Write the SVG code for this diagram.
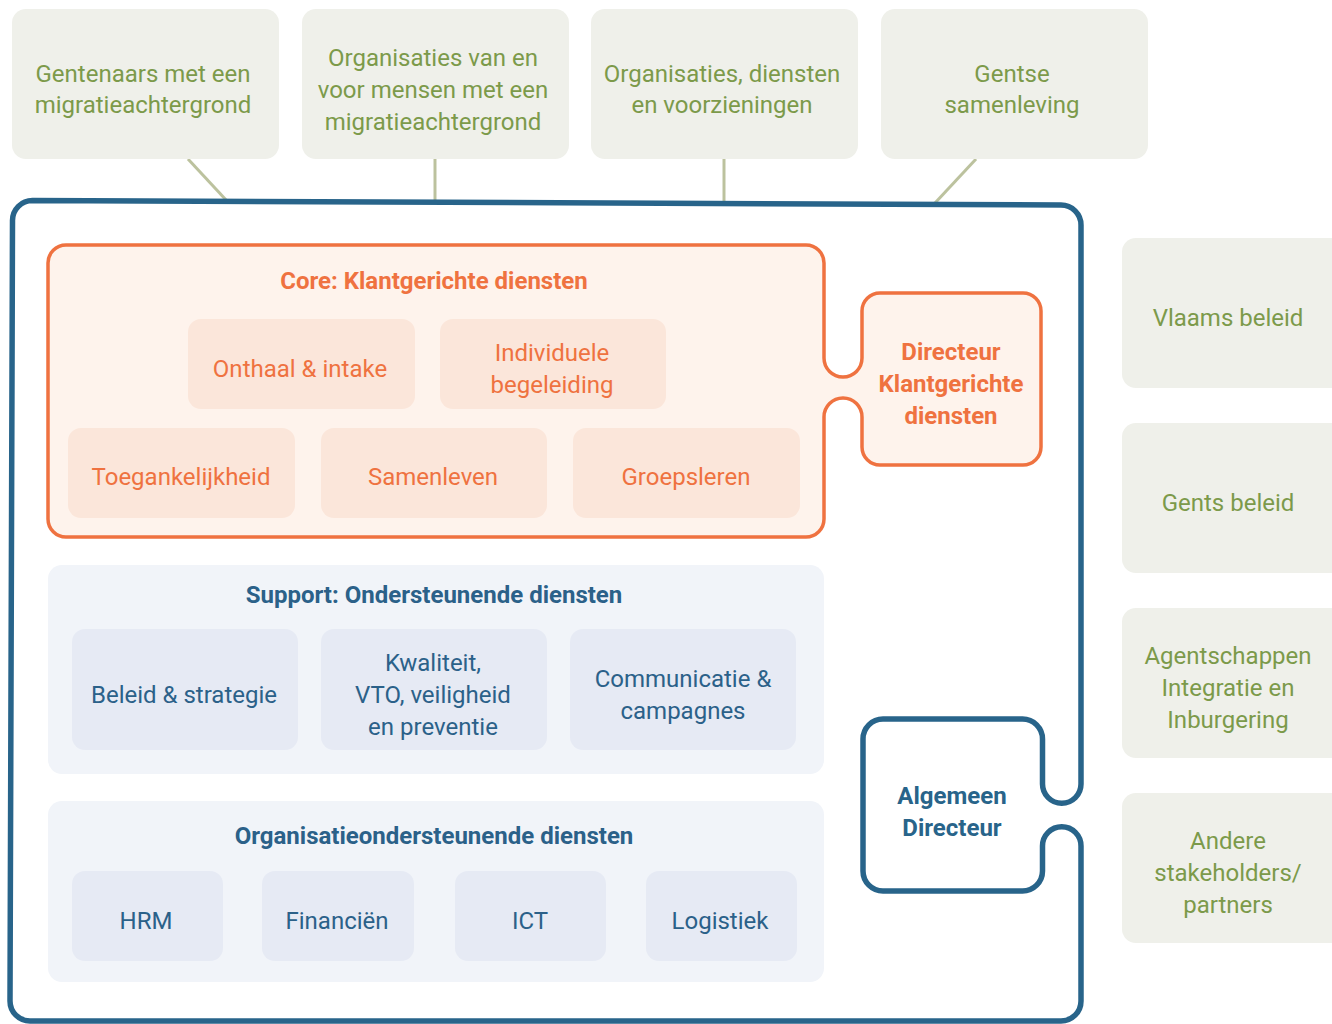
<svg xmlns="http://www.w3.org/2000/svg" width="1332" height="1024" viewBox="0 0 1332 1024">
<style>
text{font-family:Roboto,"Liberation Sans",sans-serif;text-anchor:middle}
.ext rect{fill:#EFF0EA}
.ext text{fill:#7C9A4A;font-size:24px}
.core rect{fill:#FBE6DA}
.core text{fill:#EF7240;font-size:24px}
.sup rect.panel{fill:#F1F4F9}
.sup rect.item{fill:#E6EAF4}
.sup text{fill:#2B6189;font-size:24px}
.ttl{font-weight:bold;font-size:24px}
.conn line{stroke:#BCC29E;stroke-width:3}
</style>
<rect width="1332" height="1024" fill="#FFFFFF"/>

<g id="connectors" class="conn">
<line x1="188" y1="159" x2="227" y2="201"/>
<line x1="435" y1="159" x2="435" y2="201"/>
<line x1="724" y1="159" x2="724" y2="202"/>
<line x1="976" y1="159" x2="935" y2="203"/>
</g>

<g id="ext-gentenaars" class="ext">
<rect x="12" y="9" width="267" height="150" rx="14"/>
<text x="143" y="82">Gentenaars met een</text>
<text x="143" y="113">migratieachtergrond</text>
</g>
<g id="ext-organisaties" class="ext">
<rect x="302" y="9" width="267" height="150" rx="14"/>
<text x="433" y="66">Organisaties van en</text>
<text x="433" y="98">voor mensen met een</text>
<text x="433" y="130">migratieachtergrond</text>
</g>
<g id="ext-diensten" class="ext">
<rect x="591" y="9" width="267" height="150" rx="14"/>
<text x="722" y="82">Organisaties, diensten</text>
<text x="722" y="113">en voorzieningen</text>
</g>
<g id="ext-samenleving" class="ext">
<rect x="881" y="9" width="267" height="150" rx="14"/>
<text x="1012" y="82">Gentse</text>
<text x="1012" y="113">samenleving</text>
</g>

<g id="ext-vlaams" class="ext">
<rect x="1122" y="238" width="226" height="150" rx="14"/>
<text x="1228" y="326">Vlaams beleid</text>
</g>
<g id="ext-gents" class="ext">
<rect x="1122" y="423" width="226" height="150" rx="14"/>
<text x="1228" y="511">Gents beleid</text>
</g>
<g id="ext-agentschappen" class="ext">
<rect x="1122" y="608" width="226" height="150" rx="14"/>
<text x="1228" y="664">Agentschappen</text>
<text x="1228" y="696">Integratie en</text>
<text x="1228" y="728">Inburgering</text>
</g>
<g id="ext-andere" class="ext">
<rect x="1122" y="793" width="226" height="150" rx="14"/>
<text x="1228" y="849">Andere</text>
<text x="1228" y="881">stakeholders/</text>
<text x="1228" y="913">partners</text>
</g>

<g id="organisatie-algemeen-directeur">
<path d="M32.5,200.5 L1061,205 A20,20 0 0 1 1081,225 V784 A19.25,19.25 0 0 1 1042.5,784 V739 A20,20 0 0 0 1022.5,719 H883 A20,20 0 0 0 863,739 V871 A20,20 0 0 0 883,891 H1022.5 A20,20 0 0 0 1042.5,871 V846 A19.25,19.25 0 0 1 1081,846 V1001 A20,20 0 0 1 1061,1021 H30 A20,20 0 0 1 10,1001 L12.5,220.5 A20,20 0 0 1 32.5,200.5 Z" fill="#FFFFFF" stroke="#28648A" stroke-width="5.5"/>
<text x="952" y="804" class="ttl" fill="#28648A">Algemeen</text>
<text x="952" y="836" class="ttl" fill="#28648A">Directeur</text>
</g>

<g id="core">
<path d="M66,245 H806 A18,18 0 0 1 824,263 V358 A19,19 0 0 0 862,358 V311 A18,18 0 0 1 880,293 H1023 A18,18 0 0 1 1041,311 V447 A18,18 0 0 1 1023,465 H880 A18,18 0 0 1 862,447 V417 A19,19 0 0 0 824,417 V519 A18,18 0 0 1 806,537 H66 A18,18 0 0 1 48,519 V263 A18,18 0 0 1 66,245 Z" fill="#FEF3EC" stroke="#EF7240" stroke-width="3.5"/>
<text x="434" y="289" class="ttl" fill="#EF7240">Core: Klantgerichte diensten</text>
<text x="951" y="360" class="ttl" fill="#EF7240">Directeur</text>
<text x="951" y="392" class="ttl" fill="#EF7240">Klantgerichte</text>
<text x="951" y="424" class="ttl" fill="#EF7240">diensten</text>
</g>
<g id="core-onthaal" class="core">
<rect x="188" y="319" width="227" height="90" rx="13"/>
<text x="300" y="377">Onthaal &amp; intake</text>
</g>
<g id="core-individuele" class="core">
<rect x="440" y="319" width="226" height="90" rx="13"/>
<text x="552" y="361">Individuele</text>
<text x="552" y="393">begeleiding</text>
</g>
<g id="core-toegankelijkheid" class="core">
<rect x="68" y="428" width="227" height="90" rx="13"/>
<text x="181" y="485">Toegankelijkheid</text>
</g>
<g id="core-samenleven" class="core">
<rect x="321" y="428" width="226" height="90" rx="13"/>
<text x="433" y="485">Samenleven</text>
</g>
<g id="core-groepsleren" class="core">
<rect x="573" y="428" width="227" height="90" rx="13"/>
<text x="686" y="485">Groepsleren</text>
</g>

<g id="support" class="sup">
<rect class="panel" x="48" y="565" width="776" height="209" rx="14"/>
<text x="434" y="603" class="ttl">Support: Ondersteunende diensten</text>
</g>
<g id="sup-beleid" class="sup">
<rect class="item" x="72" y="629" width="226" height="121" rx="13"/>
<text x="184" y="703">Beleid &amp; strategie</text>
</g>
<g id="sup-kwaliteit" class="sup">
<rect class="item" x="321" y="629" width="226" height="121" rx="13"/>
<text x="433" y="671">Kwaliteit,</text>
<text x="433" y="703">VTO, veiligheid</text>
<text x="433" y="735">en preventie</text>
</g>
<g id="sup-communicatie" class="sup">
<rect class="item" x="570" y="629" width="226" height="121" rx="13"/>
<text x="683" y="687">Communicatie &amp;</text>
<text x="683" y="719">campagnes</text>
</g>

<g id="orgsupport" class="sup">
<rect class="panel" x="48" y="801" width="776" height="181" rx="14"/>
<text x="434" y="844" class="ttl">Organisatieondersteunende diensten</text>
</g>
<g id="org-hrm" class="sup">
<rect class="item" x="72" y="871" width="151" height="90" rx="13"/>
<text x="146" y="929">HRM</text>
</g>
<g id="org-financien" class="sup">
<rect class="item" x="262" y="871" width="152" height="90" rx="13"/>
<text x="337" y="929">Financiën</text>
</g>
<g id="org-ict" class="sup">
<rect class="item" x="455" y="871" width="151" height="90" rx="13"/>
<text x="530" y="929">ICT</text>
</g>
<g id="org-logistiek" class="sup">
<rect class="item" x="646" y="871" width="151" height="90" rx="13"/>
<text x="720" y="929">Logistiek</text>
</g>
</svg>
